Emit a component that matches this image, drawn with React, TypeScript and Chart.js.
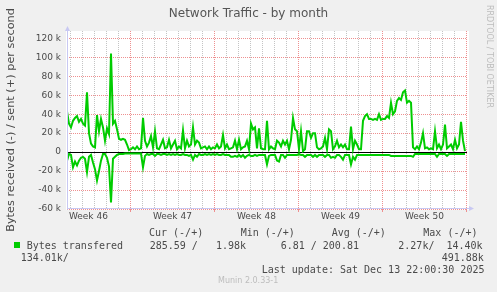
import React, { useEffect, useRef } from 'react';
import { Chart, registerables } from 'chart.js';

Chart.register(...registerables);

// ---- data ----
const sampleStepHours = 4; // one sample every 4 hours
const rangeHours = 800; // 33.3 days shown
const week46StartHour = -41.2; // Monday 00:00 of week 46, relative to graph start
const weekLabels = ['Week 46', 'Week 47', 'Week 48', 'Week 49', 'Week 50'];
const yTicksK = [-60, -50, -40, -30, -20, -10, 0, 10, 20, 30, 40, 50, 60, 70, 80, 90, 100, 110, 120];
const yMaxK = 127.7;
const yMinK = -60;

// bytes sent per second (k), positive side
const sentK = [
  43, 30, 26, 33, 36, 38, 32, 35, 30, 28,
  63, 20, 9, 6, 5, 39, 22, 35, 26, 12,
  25, 19, 104, 30, 33, 24, 14, 13, 14, 13,
  8, 2, 3, 5, 3, 6, 3, 4, 36, 12,
  6, 10, 17, 5, 22, 4, 3, 8, 13, 4,
  5, 13, 4, 8, 12, 3, 6, 4, 23, 4,
  12, 6, 8, 26, 8, 12, 10, 4, 5, 6,
  3, 6, 3, 5, 4, 8, 4, 6, 18, 4,
  8, 3, 4, 5, 12, 3, 13, 3, 5, 6,
  12, 3, 30, 24, 26, 4, 25, 4, 3, 3,
  33, 3, 6, 4, 3, 12, 10, 6, 12, 8,
  12, 3, 13, 36, 24, 22, 3, 22, 1, 3,
  22, 22, 15, 20, 20, 5, 3, 4, 6, 15,
  3, 24, 22, 3, 6, 12, 5, 8, 5, 8,
  3, 3, 27, 3, 12, 8, 3, 3, 33, 38,
  40, 35, 35, 34, 35, 34, 40, 34, 35, 35,
  38, 36, 52, 40, 43, 54, 57, 55, 63, 65,
  52, 54, 52, 5, 3, 6, 3, 10, 20, 4,
  5, 3, 4, 3, 22, 4, 8, 3, 8, 29,
  4, 6, 8, 3, 13, 4, 8, 32, 12, 1,
];

// bytes received per second (k), drawn on the negative side
const receivedK = [
  9, 2, 3, 16, 10, 14, 9, 6, 5, 7,
  21, 5, 3, 11, 18, 30, 20, 9, 2, 2,
  6, 15, 53, 7, 5, 3, 2, 2, 2, 1.5,
  1.5, 1.5, 1.5, 1.5, 1.5, 1.5, 1.5, 1.5, 16, 4,
  2, 3, 2, 2, 4, 2, 2, 3, 2, 2,
  3, 2, 3, 2, 3, 2, 3, 3, 2, 3,
  3, 4, 3, 8, 3, 5, 2, 3, 3, 2,
  3, 2, 3, 2, 3, 2, 3, 3, 2, 3,
  3, 3, 5, 5, 4, 5, 3, 5, 3, 6,
  4, 3, 4, 4, 3, 4, 3, 3, 3, 3,
  13, 4, 3, 3, 3, 9, 10, 3, 3, 6,
  3, 3, 3, 3, 3, 3, 2, 3, 3, 5,
  3, 3, 3, 5, 3, 5, 3, 3, 3, 5,
  3, 3, 6, 5, 6, 3, 3, 5, 8, 3,
  3, 3, 13, 5, 8, 3, 3, 3, 3, 3,
  3, 3, 3, 3, 3, 3, 3, 3, 3, 3,
  3, 3, 4, 4, 4, 4, 4, 4, 4, 4,
  4, 4, 4, 5, 2, 2, 2, 2, 2, 2,
  2, 2, 2, 2, 2, 5, 2, 2, 2, 2,
  4, 2, 2, 2, 2, 2, 2, 2, 2, 2,
];

const seriesLabel = 'Bytes transfered';
const legendHeaders = ['Cur (-/+)', 'Min (-/+)', 'Avg (-/+)', 'Max (-/+)'];
const legendCur = '285.59 /   1.98k';
const legendMin = '6.81 / 200.81';
const legendAvg = '2.27k/  14.40k';
const legendMaxWrapA = '134.01k/';
const legendMaxWrapB = '491.88k';
const lastUpdate = 'Last update: Sat Dec 13 22:00:30 2025';
const chartTitle = 'Network Traffic - by month';
const yTitle = 'Bytes received (-) / sent (+) per second';
const sideText = 'RRDTOOL / TOBI OETIKER';
const footer = 'Munin 2.0.33-1';

// ---- derived tick lists ----
type XTick = { value: number; kind: 'day' | 'week' | 'label'; label: string };
function buildXTicks(): XTick[] {
  const list: XTick[] = [];
  const firstDay = week46StartHour + Math.ceil((0 - week46StartHour) / 24) * 24;
  for (let h = firstDay; h <= rangeHours; h += 24) {
    const rel = Math.round((h - week46StartHour) / 24);
    list.push({ value: h, kind: rel % 7 === 0 ? 'week' : 'day', label: '' });
  }
  weekLabels.forEach((lbl, i) => {
    const mid = week46StartHour + i * 168 + 84;
    list.push({ value: mid, kind: 'label', label: lbl });
  });
  list.sort((a, b) => a.value - b.value);
  return list;
}
const xTicks = buildXTicks();

const GREEN = '#00cc00';
const RED_GRID = '#ee9090';
const GRAY_GRID = '#c4c4c4';
const AXIS = '#c8c8f2';
const TXT = '#4a4a4a';

const areaBg = {
  id: 'areaBg',
  beforeDraw(chart: any) {
    const { ctx, chartArea: a } = chart;
    ctx.save();
    ctx.fillStyle = '#ffffff';
    ctx.fillRect(a.left - 1, a.top, a.right - a.left + 3, a.bottom - a.top + 1);
    ctx.restore();
  },
};

const axisArrows = {
  id: 'axisArrows',
  afterDatasetsDraw(chart: any) {
    const { ctx, chartArea: a } = chart;
    ctx.save();
    ctx.strokeStyle = AXIS;
    ctx.fillStyle = AXIS;
    ctx.lineWidth = 1;
    const lx = Math.round(a.left) + 0.5;
    const by = Math.round(a.bottom) - 0.5;
    ctx.beginPath();
    ctx.moveTo(lx, by + 1);
    ctx.lineTo(lx, a.top - 1);
    ctx.moveTo(lx, by);
    ctx.lineTo(a.right + 2, by);
    ctx.stroke();
    ctx.beginPath();
    ctx.moveTo(lx - 2.5, a.top);
    ctx.lineTo(lx + 2.5, a.top);
    ctx.lineTo(lx, a.top - 5);
    ctx.closePath();
    ctx.fill();
    ctx.beginPath();
    ctx.moveTo(a.right + 2, by - 2.5);
    ctx.lineTo(a.right + 2, by + 2.5);
    ctx.lineTo(a.right + 7, by);
    ctx.closePath();
    ctx.fill();
    ctx.restore();
  },
};

export default function App() {
  const ref = useRef<HTMLCanvasElement | null>(null);

  useEffect(() => {
    if (!ref.current) return;
    const sent = sentK.map((v, i) => ({ x: i * sampleStepHours, y: v * 1000 }));
    const recv = receivedK.map((v, i) => ({ x: i * sampleStepHours, y: -v * 1000 }));
    const chart = new Chart(ref.current, {
      type: 'line',
      data: {
        datasets: [
          { label: seriesLabel, data: sent, borderColor: GREEN, borderWidth: 2, pointRadius: 0, tension: 0, fill: false },
          { label: seriesLabel + ' (received)', data: recv, borderColor: GREEN, borderWidth: 2, pointRadius: 0, tension: 0, fill: false },
        ],
      },
      options: {
        animation: false,
        responsive: false,
        devicePixelRatio: 1,
        layout: { padding: { left: 0, top: 31, right: 30, bottom: 63 } },
        plugins: { legend: { display: false }, tooltip: { enabled: false }, title: { display: false } },
        scales: {
          x: {
            type: 'linear',
            min: 0,
            max: rangeHours,
            afterBuildTicks: (s: any) => {
              s.ticks = xTicks.map((t) => ({ value: t.value }));
            },
            afterFit: (s: any) => {
              s.height = 20;
            },
            grid: {
              lineWidth: 1,
              drawTicks: true,
              tickLength: 3,
              color: (c: any) => {
                const t = xTicks[c.index];
                if (!t || t.kind === 'label') return 'rgba(0,0,0,0)';
                return t.kind === 'week' ? RED_GRID : GRAY_GRID;
              },
              tickColor: (c: any) => {
                const t = xTicks[c.index];
                return t && t.kind === 'week' ? RED_GRID : 'rgba(0,0,0,0)';
              },
            },
            border: { display: false, dash: [1, 1] },
            ticks: {
              autoSkip: false,
              maxRotation: 0,
              minRotation: 0,
              padding: 0,
              color: TXT,
              font: { family: 'DejaVu Sans', size: 9, lineHeight: 1 },
              callback: (_v: any, i: number) => (xTicks[i] ? xTicks[i].label : ''),
            },
          },
          y: {
            type: 'linear',
            min: yMinK * 1000,
            max: yMaxK * 1000,
            afterBuildTicks: (s: any) => {
              s.ticks = yTicksK.map((v) => ({ value: v * 1000 }));
            },
            afterFit: (s: any) => {
              s.width = 67;
            },
            grid: {
              lineWidth: 1,
              drawTicks: false,
              color: (c: any) => {
                const v = c.tick ? c.tick.value : 1;
                if (v === 0) return '#000000';
                return v % 20000 === 0 ? RED_GRID : GRAY_GRID;
              },
            },
            border: {
              display: false,
              dash: (c: any) => (c.tick && c.tick.value === 0 ? [] : [1, 1]),
            },
            ticks: {
              padding: 6,
              color: TXT,
              font: { family: 'DejaVu Sans', size: 9 },
              callback: (v: any) => {
                const n = Number(v);
                if (n % 20000 !== 0) return '';
                return n === 0 ? '0' : `${n / 1000} k`;
              },
            },
            title: {
              display: true,
              text: yTitle,
              color: TXT,
              font: { family: 'DejaVu Sans', size: 11.3 },
              padding: { top: 4, bottom: 0 },
            },
          },
        },
      } as any,
      plugins: [areaBg, axisArrows],
    });
    return () => chart.destroy();
  }, []);

  const mono: React.CSSProperties = {
    position: 'absolute',
    fontFamily: '"DejaVu Sans Mono", monospace',
    fontSize: 10,
    lineHeight: '12px',
    color: TXT,
    whiteSpace: 'pre',
  };
  const at = (left: number, cy: number): React.CSSProperties => ({ ...mono, left, top: cy - 6 });

  return (
    <div style={{ position: 'absolute', left: 0, top: 0, width: 497, height: 292, background: '#f0f0f0', overflow: 'hidden' }}>
      <canvas ref={ref} width={497} height={292} style={{ position: 'absolute', left: 0, top: 0, width: 497, height: 292 }} />
      <div style={{ position: 'absolute', left: 0, top: 6, width: 497, textAlign: 'center', fontFamily: '"DejaVu Sans", sans-serif', fontSize: 12, lineHeight: '14px', color: '#555' }}>
        {chartTitle}
      </div>
      <div style={{ position: 'absolute', left: 484, top: 5, writingMode: 'vertical-rl', fontFamily: '"DejaVu Sans", sans-serif', fontSize: 8, lineHeight: '10px', color: '#bdbdbd', whiteSpace: 'nowrap' }}>
        {sideText}
      </div>
      <div style={at(149, 233.3)}>{legendHeaders[0]}</div>
      <div style={at(240.7, 233.3)}>{legendHeaders[1]}</div>
      <div style={at(331.7, 233.3)}>{legendHeaders[2]}</div>
      <div style={at(423.3, 233.3)}>{legendHeaders[3]}</div>
      <div style={{ position: 'absolute', left: 14, top: 241.5, width: 6, height: 6, background: GREEN }} />
      <div style={at(26.7, 245.7)}>{seriesLabel}</div>
      <div style={at(149.7, 245.7)}>{legendCur}</div>
      <div style={at(280.7, 245.7)}>{legendMin}</div>
      <div style={at(398.3, 245.7)}>{legendAvg}</div>
      <div style={at(20.7, 257.7)}>{legendMaxWrapA}</div>
      <div style={at(441.7, 257.7)}>{legendMaxWrapB}</div>
      <div style={at(261.7, 270)}>{lastUpdate}</div>
      <div style={{ position: 'absolute', left: 218, top: 276, fontFamily: '"DejaVu Sans", sans-serif', fontSize: 8, lineHeight: '10px', color: '#bdbdbd', whiteSpace: 'nowrap' }}>
        {footer}
      </div>
    </div>
  );
}
